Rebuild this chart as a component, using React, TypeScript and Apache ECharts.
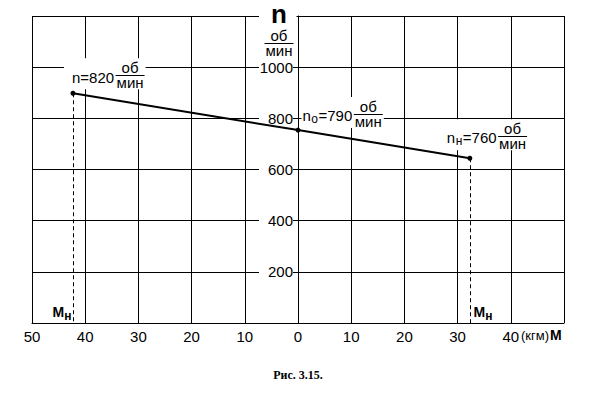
import React, { useEffect, useRef } from "react";
import * as echarts from "echarts";

// ---- data ----
const xMin = -50;
const xMax = 50;
const xStep = 10;
const yMin = 0;
const yMax = 1200;
const yStep = 200;
const linePoints: [number, number][] = [
  [-42.3, 898],
  [0, 754],
  [32.3, 644],
];
const annotationValues = [820, 790, 760];
const annotationSubs = ["", "о", "н"];
const dropIndices = [0, 2];
const yTitle = "n";
const unitTop = "об";
const unitBottom = "мин";
const xUnit = "(кгм)";
const xName = "М";
const momentMain = "М";
const momentSub = "н";
const caption = "Рис. 3.15.";

// ---- layout (offsets only, not data) ----
const labelLayout = [
  { dx: -1, dy: -11, padL: 8 },
  { dx: 4.5, dy: -9, padL: 1 },
  { dx: -23, dy: -15, padL: 3 },
];

const FONT = "'Liberation Sans', Arial, sans-serif";
const SERIF = "'Liberation Serif', 'Times New Roman', serif";

let measureCtx: CanvasRenderingContext2D | null = null;
function tw(text: string, size: number, bold = false, family = FONT): number {
  if (!measureCtx) measureCtx = document.createElement("canvas").getContext("2d");
  measureCtx!.font = `${bold ? "bold " : ""}${size}px ${family}`;
  return measureCtx!.measureText(text).width;
}

function txt(
  text: string,
  x: number,
  baseline: number,
  size: number,
  opts: { bold?: boolean; align?: string; family?: string } = {}
) {
  const align = opts.align || "left";
  return {
    type: "text",
    x,
    y: baseline - 0.35 * size,
    style: {
      text,
      fill: "#000",
      fontSize: size,
      fontFamily: opts.family || FONT,
      fontWeight: opts.bold ? "bold" : "normal",
      align,
      textAlign: align,
      verticalAlign: "middle",
      textVerticalAlign: "middle",
    },
  };
}

function hline(x1: number, x2: number, y: number, dash?: number[]) {
  return {
    type: "line",
    shape: { x1, y1: y, x2, y2: y },
    style: { stroke: "#000", lineWidth: 1, lineDash: dash },
  };
}

function fractionParts(cx: number, lineY: number, width: number, size: number) {
  const yl = Math.round(lineY) + 0.5;
  return [
    hline(cx - width / 2, cx + width / 2, yl),
    txt(unitTop, cx, lineY - 2.5, size, { align: "center" }),
    txt(unitBottom, cx, lineY + 12.5, size, { align: "center" }),
  ];
}

export default function App() {
  const ref = useRef<HTMLDivElement>(null);
  useEffect(() => {
    if (!ref.current) return;
    const chart = echarts.init(ref.current, null, { renderer: "svg" });

    const fs = 15;
    const sfs = 12;

    const annotationRender = (params: any, api: any) => {
      const i = params.dataIndex;
      const p = api.coord([api.value(0), api.value(1)]);
      const L = labelLayout[i];
      const x0 = p[0] + L.dx;
      const B = p[1] + L.dy;
      let x = x0;
      const texts: any[] = [];
      texts.push(txt("n", x, B, fs));
      x += tw("n", fs);
      const sub = annotationSubs[i];
      if (sub) {
        texts.push(txt(sub, x + 0.5, B + 2, sfs));
        x += tw(sub, sfs) + 1;
      }
      const eq = "=" + annotationValues[i];
      texts.push(txt(eq, x, B, fs));
      x += tw(eq, fs) + 1.5;
      const fw = Math.max(tw(unitTop, fs), tw(unitBottom, fs)) + 2;
      const frac = fractionParts(x + fw / 2, B - 7, fw, fs);
      const right = x + fw + 1;
      const bg = {
        type: "rect",
        shape: { x: x0 - L.padL, y: B - 24, width: right - (x0 - L.padL), height: 31 },
        style: { fill: "#fff" },
      };
      return { type: "group", children: [bg, ...texts, ...frac] };
    };

    const dropRender = (params: any, api: any) => {
      const xv = api.value(0);
      const p = api.coord([xv, api.value(1)]);
      const p0 = api.coord([xv, 0]);
      const xs = Math.round(p[0]) + 0.5;
      const wM = tw(momentMain, 14, true);
      const wS = tw(momentSub, 12, true);
      const start = xv < 0 ? xs - 2 - wM - wS : xs + 3;
      return {
        type: "group",
        children: [
          {
            type: "line",
            shape: { x1: xs, y1: p[1], x2: xs, y2: p0[1] },
            style: { stroke: "#000", lineWidth: 1, lineDash: [4, 3] },
          },
          txt(momentMain, start, p0[1] - 6, 14, { bold: true }),
          txt(momentSub, start + wM, p0[1] - 3, 12, { bold: true }),
        ],
      };
    };

    // y-axis title group
    const tcx = 279;
    const fwT = Math.max(tw(unitTop, fs), tw(unitBottom, fs)) + 2;
    const titleGroup = [
      {
        type: "rect",
        shape: { x: 259, y: 2, width: 37.5, height: 26 },
        style: { fill: "#fff" },
        z: 100,
      },
      { ...txt(yTitle, tcx, 23, 26, { bold: true, align: "center" }), z: 101 },
      ...fractionParts(tcx, 43, fwT, fs).map((e: any) => ({ ...e, z: 101 })),
    ];
    const unitX = 521;
    const unitW = tw(xUnit, 13);
    const graphics = [
      ...titleGroup,
      { ...txt(xUnit, unitX, 340, 13), z: 101 },
      { ...txt(xName, unitX + unitW + 1, 340, 14, { bold: true }), z: 101 },
      { ...txt(caption, 298, 379, 12, { bold: true, align: "center", family: SERIF }), z: 101 },
    ];

    chart.setOption({
      animation: false,
      backgroundColor: "#fff",
      grid: [
        { left: 32, right: 31, top: 16, bottom: 70, show: false, containLabel: false, outerBoundsMode: "none" },
        // right half grid: its left edge is the M = 0 line, where the n axis stands
        { left: 298, right: 31, top: 16, bottom: 70, show: false, containLabel: false, outerBoundsMode: "none" },
      ],
      xAxis: [
        {
          type: "value",
          gridIndex: 0,
          min: xMin,
          max: xMax,
          interval: xStep,
          axisLine: { show: true, onZero: false, lineStyle: { color: "#000", width: 1 } },
          axisTick: { show: false },
          axisLabel: {
            color: "#000",
            fontSize: 15,
            fontFamily: FONT,
            margin: 6,
            formatter: (v: number) => (v === xMax ? "" : String(Math.abs(v))),
          },
          splitLine: { show: true, lineStyle: { color: "#000", width: 1 } },
          z: 0,
        },
        {
          type: "value",
          gridIndex: 1,
          min: 0,
          max: xMax,
          show: false,
        },
      ],
      yAxis: [
        {
          type: "value",
          gridIndex: 0,
          min: yMin,
          max: yMax,
          interval: yStep,
          axisLine: { show: false, onZero: false },
          axisTick: { show: false },
          axisLabel: { show: false },
          splitLine: { show: true, lineStyle: { color: "#000", width: 1 } },
          z: 0,
        },
        {
          type: "value",
          gridIndex: 1,
          min: yMin,
          max: yMax,
          interval: yStep,
          position: "left",
          axisLine: { show: true, onZero: false, lineStyle: { color: "#000", width: 1 } },
          axisTick: { show: false },
          splitLine: { show: false },
          axisLabel: {
            showMinLabel: false,
            showMaxLabel: false,
            color: "#000",
            fontSize: 15,
            fontFamily: FONT,
            backgroundColor: "#fff",
            width: 34,
            align: "right",
            margin: 5,
            formatter: (v: number) => String(v),
          },
          z: 4,
        },
      ],
      series: [
        {
          type: "custom",
          z: 2,
          renderItem: dropRender,
          data: dropIndices.map((i) => linePoints[i]),
          silent: true,
        },
        {
          type: "custom",
          z: 3,
          renderItem: annotationRender,
          data: linePoints.map((p, i) => [p[0], p[1], annotationValues[i]]),
          silent: true,
        },
        {
          type: "line",
          z: 5,
          data: linePoints,
          symbol: "circle",
          symbolSize: 5,
          itemStyle: { color: "#000" },
          lineStyle: { color: "#000", width: 2 },
          silent: true,
        },
      ],
      graphic: graphics,
    });
    return () => chart.dispose();
  }, []);
  return (
    <div
      ref={ref}
      style={{ position: "absolute", left: 0, top: 0, width: 595, height: 393, background: "#fff" }}
    />
  );
}
